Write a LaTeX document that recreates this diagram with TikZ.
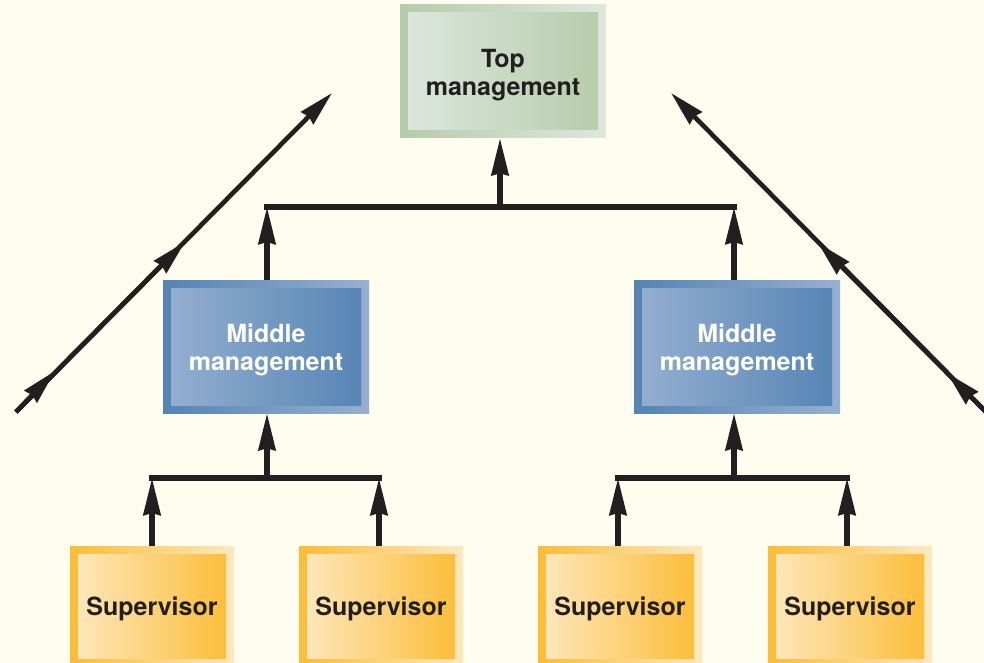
\documentclass[tikz,border=0pt]{standalone}
\usepackage{fontspec}
\setmainfont{TeX Gyre Heros}
\usetikzlibrary{arrows.meta, positioning, calc}
\definecolor{paper}{RGB}{255,253,240}
\definecolor{ink}{RGB}{35,31,32}
\definecolor{greendk}{RGB}{181,204,168}
\definecolor{greenlt}{RGB}{222,231,224}
\definecolor{bluedk}{RGB}{84,132,180}
\definecolor{bluelt}{RGB}{150,176,209}
\definecolor{orangedk}{RGB}{252,188,52}
\definecolor{orangelt}{RGB}{253,232,192}

\begin{document}
\begin{tikzpicture}[
  x=1pt, y=-1pt,
  font=\fontsize{25}{28.5}\selectfont\bfseries,
  framebox/.style n args={2}{rectangle, inner sep=0pt, align=center,
               left color=#1, right color=#2,
               path picture={\shade[left color=#2, right color=#1]
                 ($(path picture bounding box.south west)+(8pt,8pt)$) rectangle
                 ($(path picture bounding box.north east)-(8pt,8pt)$);}},
  topbox/.style={framebox={greendk}{greenlt}, text=ink,
               minimum width=206pt, minimum height=133pt},
  midbox/.style={framebox={bluedk}{bluelt}, text=white,
               minimum width=206pt, minimum height=133pt},
  supbox/.style={framebox={orangedk}{orangelt}, text=ink,
               minimum width=164pt, minimum height=120pt},
  arr/.style={-{Stealth[length=37pt, width=17pt, inset=2pt]}, line width=5.2pt, ink},
  bar/.style={line width=5.2pt, ink, line cap=rect},
  diag/.style={-{Stealth[length=35pt, width=17pt, inset=2pt]}, line width=4.6pt, ink}
]
\useasboundingbox (0,0) rectangle (984,663);
\fill[paper] (0,0) rectangle (984,663);

% boxes
\node[topbox] (top) at (503,71.5) {\rule{0pt}{25pt}Top\\management};
\node[midbox] (mid1) at (266,346.5) {\rule{0pt}{25pt}Middle\\management};
\node[midbox] (mid2) at (737,346.5) {\rule{0pt}{25pt}Middle\\management};
\node[supbox] (sup1) at (152,606) {\rule{0pt}{25pt}Supervisor};
\node[supbox] (sup2) at (381,606) {\rule{0pt}{25pt}Supervisor};
\node[supbox] (sup3) at (620,606) {\rule{0pt}{25pt}Supervisor};
\node[supbox] (sup4) at (850,606) {\rule{0pt}{25pt}Supervisor};

% buses
\coordinate (topbus) at (500,207);
\coordinate (lbus) at (267,478);
\coordinate (rbus) at (734,478);
\draw[bar] (267,207) -- (734,207);
\draw[bar] (152,478) -- (379,478);
\draw[bar] (618,478) -- (847,478);

% upward arrows
\draw[arr] (topbus) -- (topbus |- top.south);
\draw[arr] (267,280) -- (267,207);
\draw[arr] (734,280) -- (734,207);
\draw[arr] (lbus) -- (lbus |- mid1.south);
\draw[arr] (rbus) -- (rbus |- mid2.south);
\draw[arr] (152,546) -- (152,478);
\draw[arr] (379,546) -- (379,478);
\draw[arr] (618,546) -- (618,478);
\draw[arr] (847,546) -- (847,478);

% diagonal lines
\coordinate (la) at (16,412);
\coordinate (lb) at (55,371);
\coordinate (lc) at (185,242);
\coordinate (ld) at (332,93);
\draw[diag] (la) -- (ld);
\draw[diag] (la) -- (lc);
\draw[diag] (la) -- (lb);
\coordinate (ra) at (986,412);
\coordinate (rb) at (947,373);
\coordinate (rc) at (818,243);
\coordinate (rd) at (671,93);
\draw[diag] (ra) -- (rd);
\draw[diag] (ra) -- (rc);
\draw[diag] (ra) -- (rb);
\end{tikzpicture}
\end{document}
